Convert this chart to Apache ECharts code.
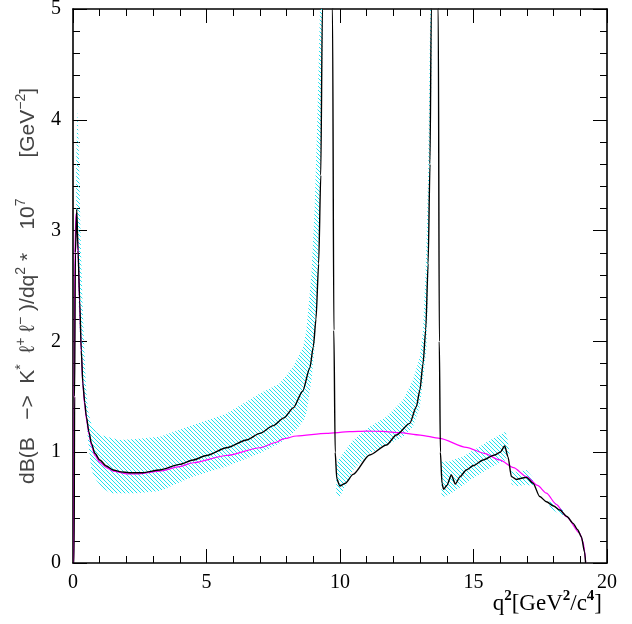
<!DOCTYPE html>
<html>
<head>
<meta charset="utf-8">
<script src="https://cdn.jsdelivr.net/npm/echarts@6/dist/echarts.min.js"></script>
<style>html,body{margin:0;padding:0;background:#fff;}#c{width:632px;height:624px;}</style>
</head>
<body>
<div id="c"></div>
<script>
// ---- data ----
const xTicks = [0, 5, 10, 15, 20];
const yTicks = [0, 1, 2, 3, 4, 5];

// full prediction (with resonances), [q2, dB/dq2]
const fullCurve = [
  [0,0],[0.04,0],[0.06,1.5],[0.09,2.8],[0.14,3.19],[0.19,2.82],[0.25,2.37],[0.31,1.92],[0.37,1.62],
  [0.44,1.45],[0.5,1.32],[0.6,1.18],[0.69,1.08],[0.82,0.99],[1.0,0.93],[1.25,0.875],[1.5,0.84],
  [1.8,0.822],[2.1,0.815],[2.6,0.815],[3.25,0.84],[4.0,0.89],
  [4.5,0.93],[5.0,0.97],[5.75,1.04],[6.5,1.11],[7.0,1.17],[7.5,1.24],[7.9,1.31],[8.25,1.4],
  [8.6,1.55],[8.87,1.76],[9.0,1.95],[9.1,2.2],[9.2,2.7],[9.28,3.5],[9.34,5.0],[9.55,12],
  [9.72,5.0],[9.77,2.1],[9.82,1.0],[9.88,0.76],[9.99,0.695],[10.2,0.72],[10.49,0.8],[11.11,0.975],
  [11.74,1.065],[12.11,1.155],[12.61,1.26],[12.86,1.41],[12.99,1.56],[13.11,1.8],[13.21,2.1],
  [13.3,2.7],[13.37,3.6],[13.42,5.0],[13.55,12],[13.68,5.0],[13.72,2.0],[13.76,1.0],[13.82,0.72],
  [13.88,0.665],[14.0,0.7],[14.17,0.794],[14.32,0.713],[14.5,0.78],[14.73,0.84],[15.0,0.88],
  [15.36,0.93],[15.79,0.975],[16.0,1.0],[16.17,1.056],[16.29,0.96],[16.42,0.78],[16.61,0.755],
  [16.8,0.765],[16.98,0.773],[17.23,0.72],[17.48,0.6],[17.73,0.553],[18.0,0.515],[18.23,0.478],
  [18.5,0.42],[18.73,0.358],[18.9,0.3],[19.04,0.237],[19.16,0.1],[19.2,0]
];

// non-resonant prediction
const nonResCurve = [
  [0,0],[0.03,0],[0.045,1.5],[0.07,2.8],[0.11,3.15],[0.15,3.05],[0.19,2.78],[0.25,2.33],[0.31,1.9],
  [0.37,1.6],[0.44,1.42],[0.5,1.3],[0.6,1.16],[0.69,1.06],[0.82,0.97],[1.0,0.91],[1.25,0.86],
  [1.5,0.83],[2.0,0.805],[2.5,0.805],[3.25,0.83],
  [4.0,0.87],[4.5,0.905],[5.75,0.97],[7.0,1.04],[7.62,1.09],[7.87,1.12],[8.37,1.146],[9.49,1.17],
  [10.36,1.185],[11.0,1.19],[11.6,1.188],[12.24,1.176],[13.0,1.155],[13.73,1.125],[14.73,1.044],
  [15.4,0.99],[15.98,0.93],[16.5,0.86],[16.98,0.78],[17.4,0.7],[17.73,0.63],[18.1,0.53],
  [18.48,0.418],[18.98,0.268],[19.1,0.19],[19.17,0.1],[19.2,0]
];

// uncertainty band pieces: q2, upper, lower
const bandAX  = [0.12,0.17,0.22,0.28,0.35,0.42,0.48,0.56,0.69,0.87,1.1,1.4,1.75,2.37,3.25,4.5,5.75,7.0,7.74,8.24,8.62,8.74,8.93,9.05,9.15,9.25,9.32,9.37];
const bandAUp = [3.6,4.1,3.7,3.0,2.4,1.95,1.62,1.38,1.25,1.18,1.15,1.13,1.11,1.12,1.14,1.245,1.35,1.53,1.62,1.77,1.95,2.1,2.6,3.2,4.0,5.0,5.0,5.0];
const bandALo = [3.0,2.8,2.3,1.95,1.62,1.45,1.35,1.11,0.84,0.75,0.68,0.63,0.63,0.63,0.65,0.78,0.87,0.99,1.08,1.17,1.28,1.35,1.65,1.95,2.5,3.3,4.2,5.0];

const bandBX  = [9.86,9.93,10.0,10.49,11.11,11.74,12.36,12.73,12.99,13.11,13.2,13.24,13.3,13.38,13.45];
const bandBUp = [0.9,0.92,0.95,1.11,1.23,1.32,1.47,1.65,1.86,2.1,2.6,2.9,3.5,5.0,5.0];
const bandBLo = [0.62,0.6,0.6,0.84,0.99,1.065,1.14,1.23,1.41,1.65,1.85,1.95,2.5,3.6,5.0];

const bandCX  = [13.8,13.92,14.11,14.36,14.61,14.86,15.23,15.48,15.86,16.1,16.2,16.27,16.35];
const bandCUp = [0.915,0.915,0.915,0.94,0.96,1.0,1.05,1.09,1.14,1.17,1.185,1.12,1.0];
const bandCLo = [0.6,0.6,0.62,0.66,0.7,0.75,0.8,0.84,0.89,0.915,0.93,0.96,0.98];

const bandDX  = [16.42,16.61,16.8,16.98,17.23];
const bandDUp = [0.84,0.82,0.83,0.84,0.77];
const bandDLo = [0.71,0.69,0.70,0.71,0.69];

const bandEX  = [17.85,18.1,18.35];
const bandEUp = [0.57,0.54,0.48];
const bandELo = [0.50,0.46,0.42];

// ---- build ----
const bands = [
  [bandAX, bandAUp, bandALo],
  [bandBX, bandBUp, bandBLo],
  [bandCX, bandCUp, bandCLo],
  [bandDX, bandDUp, bandDLo],
  [bandEX, bandEUp, bandELo]
];
const Y_MAX = yTicks[yTicks.length - 1];

// hatch pattern
const pat = document.createElement('canvas');
const S = 4;
pat.width = S; pat.height = S;
const pctx = pat.getContext('2d');
pctx.fillStyle = '#1fe2ee';
for (let i = 0; i < S; i++) {
  pctx.fillRect(i, i, 1, 1);
}

const chart = echarts.init(document.getElementById('c'), null, {renderer: 'canvas'});

const serifFont = 'Liberation Serif';
const axisCommon = {
  type: 'value',
  axisLine: {show: true, onZero: false, lineStyle: {color: '#000', width: 1.6}},
  axisTick: {show: true, inside: true, length: 14, lineStyle: {color: '#000', width: 1}},
  minorTick: {show: true, splitNumber: 5, length: 7, lineStyle: {color: '#000', width: 1}},
  splitLine: {show: false},
  minorSplitLine: {show: false}
};

const option = {
  backgroundColor: '#fff',
  animation: false,
  grid: {left: 73, right: 25, top: 9, bottom: 61, containLabel: false, outerBoundsMode: 'none'},
  xAxis: [
    Object.assign({}, axisCommon, {
      position: 'bottom', min: xTicks[0], max: xTicks[xTicks.length - 1], interval: 5,
      axisLabel: {show: true, color: '#000', fontFamily: serifFont, fontSize: 20, margin: 10,
        formatter: v => String(v)}
    }),
    Object.assign({}, axisCommon, {
      position: 'top', min: xTicks[0], max: xTicks[xTicks.length - 1], interval: 5,
      axisLabel: {show: false}
    })
  ],
  yAxis: [
    Object.assign({}, axisCommon, {
      position: 'left', min: yTicks[0], max: Y_MAX, interval: 1,
      axisLabel: {show: true, color: '#000', fontFamily: serifFont, fontSize: 20, margin: 12,
        formatter: v => String(v)},
      name: '{t|dB(B   −>  K}{s|*}{t|  ℓ}{s|+}{t| ℓ}{s|−}{t| )/dq}{s|2}{t| *    10}{s|7}{t|       [GeV}{s|−2}{t|]}',
      nameLocation: 'middle',
      nameRotate: 90,
      nameGap: 34,
      nameTextStyle: {
        rich: {
          t: {fontFamily: 'Liberation Sans', fontSize: 21, color: '#444', lineHeight: 25, verticalAlign: 'bottom'},
          s: {fontFamily: 'Liberation Sans', fontSize: 14, color: '#444', lineHeight: 16, verticalAlign: 'top'}
        }
      }
    }),
    Object.assign({}, axisCommon, {
      position: 'right', min: yTicks[0], max: Y_MAX, interval: 1,
      axisLabel: {show: false}
    })
  ],
  graphic: [{
    type: 'text',
    right: 30,
    top: 589,
    style: {
      text: '{t|q}{s|2}{t|[GeV}{s|2}{t|/c}{s|4}{t|]}',
      rich: {
        t: {fontFamily: serifFont, fontSize: 23, fill: '#000', lineHeight: 26, verticalAlign: 'bottom'},
        s: {fontFamily: serifFont, fontSize: 15, fontWeight: 'bold', fill: '#000', lineHeight: 16, verticalAlign: 'top'}
      }
    }
  }],
  series: [
    {
      type: 'custom',
      name: 'band',
      coordinateSystem: 'cartesian2d',
      xAxisIndex: 0, yAxisIndex: 0,
      silent: true,
      data: bands.map(b => [b[0][0], b[2][0]]),
      encode: {x: 0, y: 1},
      renderItem: function (params, api) {
        const b = bands[params.dataIndex];
        const xs = b[0], up = b[1], lo = b[2];
        const pts = [];
        for (let i = 0; i < xs.length; i++) pts.push(api.coord([xs[i], Math.min(up[i], Y_MAX)]));
        for (let i = xs.length - 1; i >= 0; i--) pts.push(api.coord([xs[i], Math.min(lo[i], Y_MAX)]));
        return {
          type: 'polygon',
          shape: {points: pts},
          style: {fill: {image: pat, repeat: 'repeat'}, stroke: null}
        };
      },
      z: 1
    },
    {
      type: 'line',
      name: 'non-resonant',
      data: nonResCurve,
      showSymbol: false,
      symbol: 'none',
      smooth: 0.25,
      smoothMonotone: 'x',
      clip: true,
      lineStyle: {color: '#ff00ff', width: 1.2},
      z: 2
    },
    {
      type: 'line',
      name: 'full',
      data: fullCurve,
      showSymbol: false,
      symbol: 'none',
      smooth: 0.25,
      smoothMonotone: 'x',
      clip: true,
      lineStyle: {color: '#000', width: 1.4},
      z: 3
    }
  ]
};
chart.setOption(option);
</script>
</body>
</html>
